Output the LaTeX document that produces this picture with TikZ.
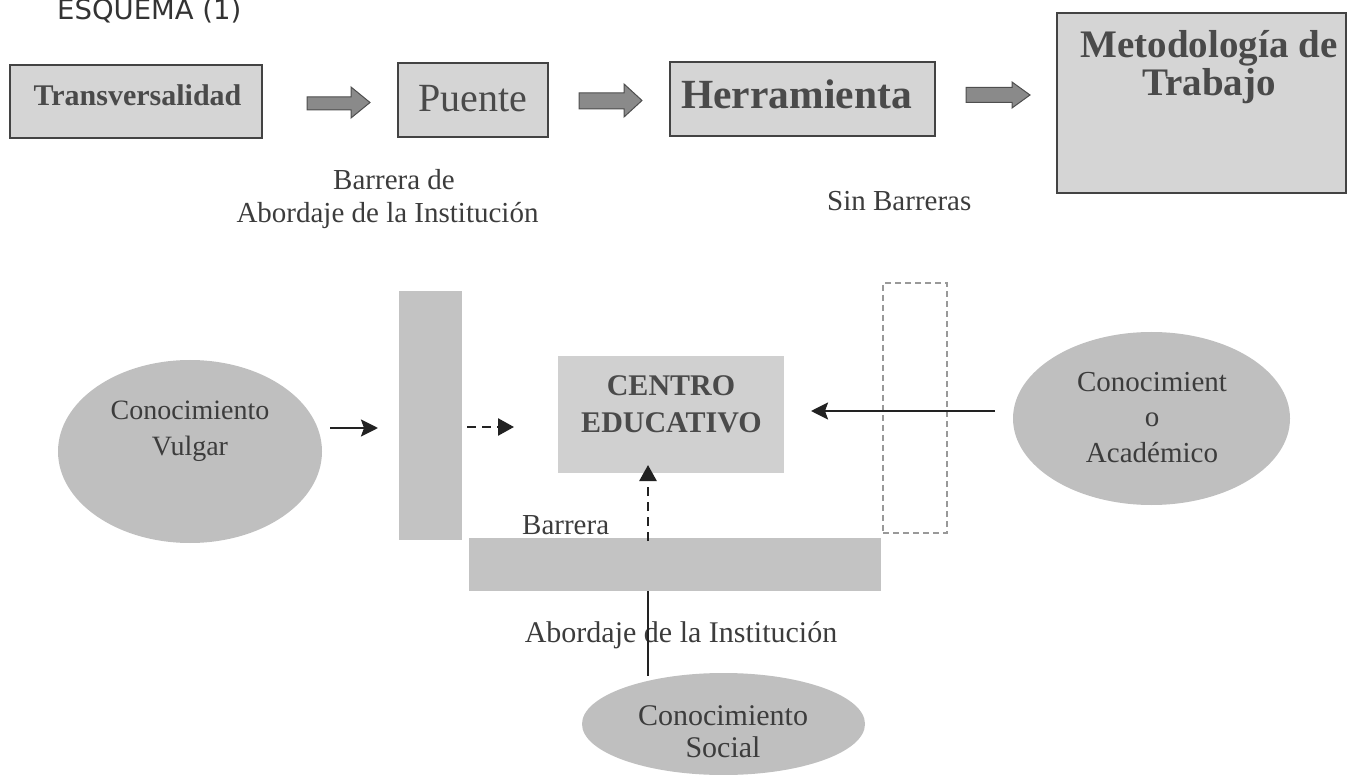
\documentclass[tikz,border=0pt]{standalone}
\usepackage{fontspec}
\setmainfont{Liberation Serif}
\newfontfamily\esqfont{DejaVu Sans}
\usetikzlibrary{arrows.meta,shapes.geometric}
\definecolor{boxfill}{HTML}{D5D5D5}
\definecolor{centrofill}{HTML}{D0D0D0}
\definecolor{barfill}{HTML}{C3C3C3}
\definecolor{ellfill}{HTML}{BFBFBF}
\definecolor{arrfill}{HTML}{8A8A8A}
\definecolor{txt}{HTML}{3C3C3C}
\definecolor{boxtxt}{HTML}{4A4A4A}
\definecolor{lin}{HTML}{222222}
\newcommand\fsz[2]{\fontsize{#1}{#2}\selectfont}
\begin{document}
\begin{tikzpicture}[x=1pt,y=-1pt,
  topbox/.style={draw=lin!85, line width=1.5pt, fill=boxfill, inner sep=0pt},
  barbox/.style={fill=barfill, draw=none, inner sep=0pt},
  ellnode/.style={shape=ellipse, fill=ellfill, draw=none, inner sep=0pt},
  lbl/.style={inner sep=0pt, anchor=base, text=txt},
  boldlbl/.style={inner sep=0pt, anchor=base, text=boxtxt},
  blockarrow/.style={fill=arrfill, draw=lin!80, line width=1pt, line join=miter},
  solidarr/.style={draw=lin, line width=2.5pt, -{Stealth[length=17pt,width=17pt,inset=3pt]}},
  dasharr/.style={draw=lin, line width=2.6pt, dash pattern=on 9pt off 6pt, -{Triangle[length=16pt,width=17pt]}},
  plainline/.style={draw=lin, line width=2.2pt},
  dashbox/.style={draw=black!40, line width=1.2pt, dash pattern=on 6pt off 4pt, fill=none, inner sep=0pt}
]
\useasboundingbox (0,0) rectangle (1347,775);
% title
\node[anchor=base west, inner sep=0pt, text=black!80, font=\esqfont\fsz{27.5}{30}] (esq) at (57,20) {ESQUEMA (1)};

% top row boxes
\node[topbox, minimum width=252pt, minimum height=73pt] (trans) at (136,101.5) {};
\node[topbox, minimum width=150pt, minimum height=74pt] (puente) at (473,100) {};
\node[topbox, minimum width=265pt, minimum height=74pt] (herr) at (802.5,99) {};
\node[topbox, minimum width=289pt, minimum height=180pt] (met) at (1201.5,103) {};

\node[boldlbl, font=\bfseries\fsz{30}{32}] (transtxt) at (137.5,106) {Transversalidad};
\node[lbl, text=boxtxt, font=\fsz{40}{44}] (puentetxt) at (473,112) {Puente};
\node[boldlbl, font=\bfseries\fsz{41.5}{44}] (herrtxt) at (796.5,109) {Herramienta};
\node[boldlbl, font=\bfseries\fsz{39}{40}] (mettxta) at (1209,58) {Metodología de};
\node[boldlbl, font=\bfseries\fsz{39}{40}] (mettxtb) at (1209,96) {Trabajo};

% block arrows
\draw[blockarrow] (307,97) -- (351,97) -- (351,87) -- (370,102.5) -- (351,118) -- (351,110) -- (307,110) -- cycle;
\draw[blockarrow] (579,93) -- (624,93) -- (624,84) -- (642,100.5) -- (624,117) -- (624,109) -- (579,109) -- cycle;
\draw[blockarrow] (966,87.5) -- (1012,87.5) -- (1012,82) -- (1030,95) -- (1012,108) -- (1012,102.5) -- (966,102.5) -- cycle;

% captions
\node[lbl, font=\fsz{29}{32}] (bar1a) at (394,190) {Barrera de};
\node[lbl, font=\fsz{29}{32}] (bar1b) at (387.5,223) {Abordaje de la Institución};
\node[lbl, anchor=base west, font=\fsz{29}{32}] (sinb) at (827,211) {Sin Barreras};

% lower part shapes
\node[barbox, minimum width=63pt, minimum height=249pt] (vbar) at (430.5,415.5) {};
\node[fill=centrofill, inner sep=0pt, minimum width=226pt, minimum height=117pt] (centro) at (671,414.5) {};
\node[dashbox, minimum width=64pt, minimum height=250pt] (dbox) at (915,408) {};
\node[barbox, minimum width=412pt, minimum height=53pt] (hbar) at (675,564.5) {};
\node[ellnode, minimum width=264pt, minimum height=183pt] (vulgar) at (190,451.5) {};
\node[ellnode, minimum width=277pt, minimum height=173pt] (acad) at (1151.5,418.5) {};
\node[ellnode, minimum width=283pt, minimum height=102pt] (social) at (723.5,724) {};

% lower texts
\node[boldlbl, font=\bfseries\fsz{30}{34}] (centroa) at (671,396) {CENTRO};
\node[boldlbl, font=\bfseries\fsz{30}{34}] (centrob) at (671.5,432) {EDUCATIVO};
\node[lbl, font=\fsz{28}{32}] (vulgara) at (190,420) {Conocimiento};
\node[lbl, font=\fsz{28}{32}] (vulgarb) at (190,455) {Vulgar};
\node[lbl, font=\fsz{29}{32}] (acada) at (1152,392) {Conocimient};
\node[lbl, font=\fsz{29}{32}] (acadb) at (1152,427) {o};
\node[lbl, font=\fsz{29}{32}] (acadc) at (1152,462) {Académico};
\node[lbl, anchor=base west, font=\fsz{29}{32}] (barrera) at (522,534) {Barrera};
\node[lbl, font=\fsz{30}{34}] (abord) at (681,642) {Abordaje de la Institución};
\node[lbl, font=\fsz{30}{34}] (sociala) at (723,725) {Conocimiento};
\node[lbl, font=\fsz{30}{34}] (socialb) at (723,757) {Social};

% connector end points
\coordinate (v1) at (330,428);
\coordinate (v2) at (378,428);
\coordinate (d1) at (467,427);
\coordinate (d2) at (514,427);
\coordinate (a1) at (995,411);
\coordinate (a2) at (811,411);
\coordinate (u1) at (648,541);
\coordinate (u2) at (648,465);
\coordinate (s1) at (648,591);
\coordinate (s2) at (648,676);

\draw[solidarr] (v1) -- (v2);
\draw[dasharr] (d1) -- (d2);
\draw[solidarr] (a1) -- (a2);
\draw[dasharr] (u1) -- (u2);
\draw[plainline] (s1) -- (s2);
\end{tikzpicture}
\end{document}
